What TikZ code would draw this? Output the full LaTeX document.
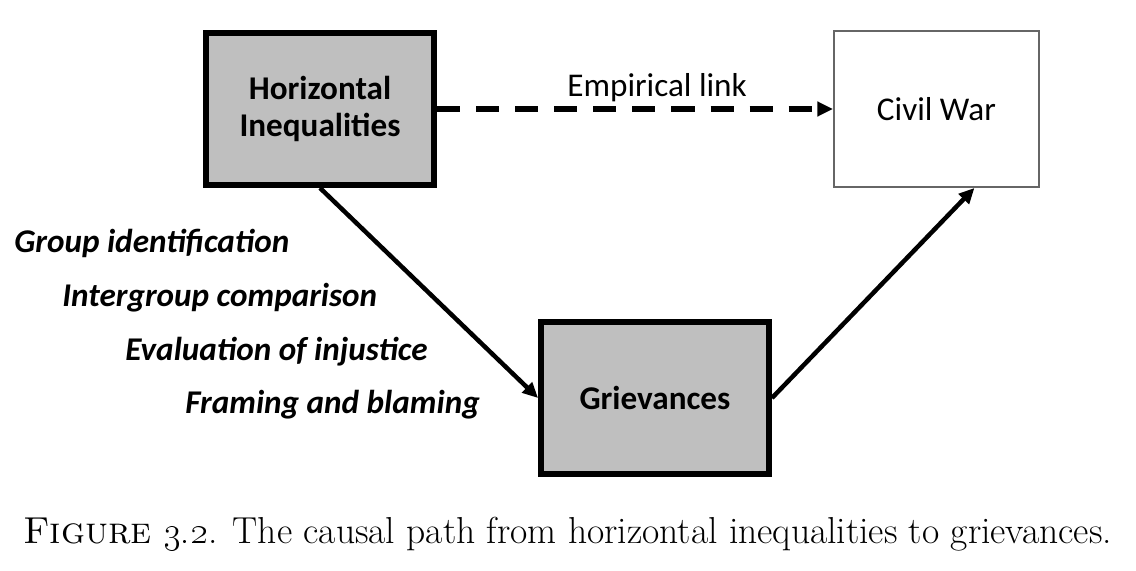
\RequirePackage{fix-cm}
\documentclass[tikz,border=0pt]{standalone}
\NewCommandCopy\lmoldnums\oldstylenums
\usepackage{fontspec}
\newfontfamily\boxfont{Carlito}
\usetikzlibrary{arrows.meta,positioning}
\newcommand*{\boxtextstyle}{\boxfont\fontsize{23.6}{26.3}\selectfont}
\tikzset{
  shaded/.style = {draw = black, line width = 4.2pt, fill = black!25,
    minimum width = 5.7cm, minimum height = 3.8cm, align = center,
    font = \boxtextstyle\bfseries},
  plain/.style = {draw = black!60, line width = 1.4pt, fill = white,
    minimum width = 5.125cm, minimum height = 3.9cm,
    font = \boxtextstyle},
  link/.style = {line width = 3.2pt, -{Triangle[length = 11pt, width = 10pt]}},
  mechanism/.style = {anchor = west, inner sep = 0pt,
    font = \boxtextstyle\bfseries\itshape},
}

\begin{document}
\begin{tikzpicture}
  \useasboundingbox (0,0) rectangle (28.4,14.25);
  % boxes
  \node[shaded] (hi) at (8.0,11.525) {Horizontal\\Inequalities};
  \node[plain] (cw) at (23.41,11.525) {Civil War};
  \node[shaded] (gr) at (16.375,4.3) {Grievances};
  % mechanisms
  \node[mechanism] (group) at (0.35,8.175) {Group identification};
  \node[mechanism] (inter) at (1.55,6.8) {Intergroup comparison};
  \node[mechanism] (eval) at (3.125,5.45) {Evaluation of injustice};
  \node[mechanism] (frame) at (4.625,4.125) {Framing and blaming};
  % links
  \draw[link, line width = 3.6pt, dash pattern = on 16.4pt off 11.4pt]
    (hi.east) -- (cw.west)
    node[pos = 0.556, above, inner sep = 3pt, font = \boxtextstyle] (emp) {Empirical link};
  \draw[link] (hi.south) -- (gr.west);
  \draw[link] (gr.east) -- ([xshift = 0.95cm]cw.south);
  % caption
  \node[anchor = base] (caption) at (14.19,0.675) {\fontsize{26.7}{30}\selectfont
    \textsc{Figure} \lmoldnums{3.2}. The causal path from horizontal
    inequalities to grievances.};
\end{tikzpicture}
\end{document}
